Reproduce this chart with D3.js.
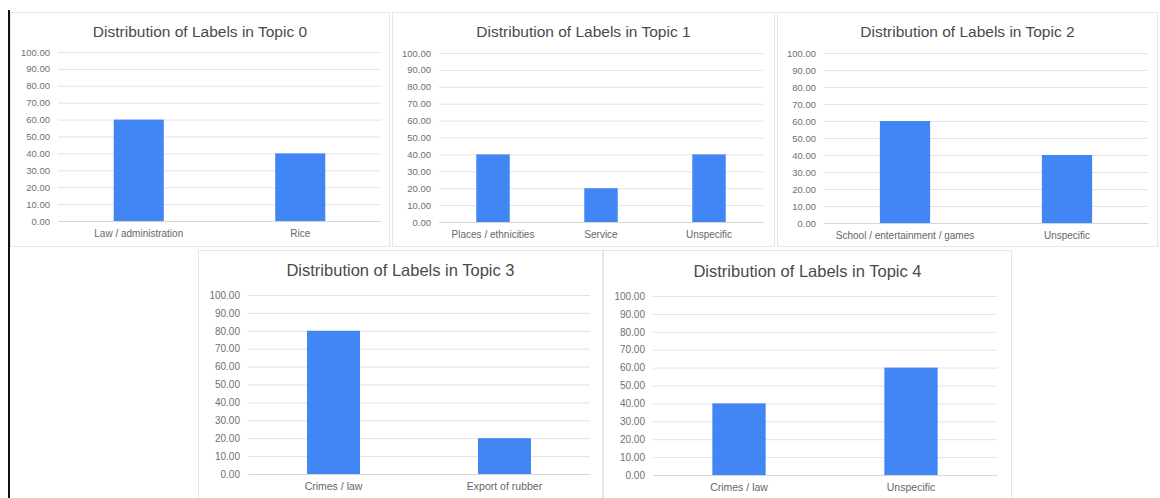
<!DOCTYPE html>
<html>
<head>
<meta charset="utf-8">
<script src="https://cdn.jsdelivr.net/npm/d3@7"></script>
<style>
  html, body { margin: 0; padding: 0; background: #ffffff; }
  svg { display: block; }
</style>
</head>
<body>
<svg id="chart" width="1160" height="498"></svg>
<script>
// Share of each label within the five topics (percent)
const topicNames = ["Topic 0", "Topic 1", "Topic 2", "Topic 3", "Topic 4"];

const topic0Labels = ["Law / administration", "Rice"];
const topic0Values = [60, 40];

const topic1Labels = ["Places / ethnicities", "Service", "Unspecific"];
const topic1Values = [40, 20, 40];

const topic2Labels = ["School / entertainment / games", "Unspecific"];
const topic2Values = [60, 40];

const topic3Labels = ["Crimes / law", "Export of rubber"];
const topic3Values = [80, 20];

const topic4Labels = ["Crimes / law", "Unspecific"];
const topic4Values = [40, 60];

const yTickValues = [0, 10, 20, 30, 40, 50, 60, 70, 80, 90, 100];

const topicLabels = [topic0Labels, topic1Labels, topic2Labels, topic3Labels, topic4Labels];
const topicValues = [topic0Values, topic1Values, topic2Values, topic3Values, topic4Values];

// Card frames and plot areas for each small chart
const frames = [
  { x: 10,  y: 12,  w: 380, h: 235, left: 58,  right: 381,  top: 52,  bottom: 221, titleY: 37, titleSize: 15.5, tickSize: 9.5, catSize: 10 },
  { x: 392, y: 12,  w: 383, h: 235, left: 439, right: 763,  top: 53,  bottom: 222, titleY: 37, titleSize: 15.5, tickSize: 9.5, catSize: 10 },
  { x: 777, y: 12,  w: 381, h: 235, left: 824, right: 1148, top: 53,  bottom: 223, titleY: 37, titleSize: 15.5, tickSize: 9.5, catSize: 10 },
  { x: 198, y: 250, w: 405, h: 260, left: 248, right: 590,  top: 295, bottom: 474, titleY: 276, titleSize: 16.5, tickSize: 10, catSize: 10.5 },
  { x: 603, y: 250, w: 409, h: 260, left: 653, right: 997,  top: 296, bottom: 475, titleY: 277, titleSize: 16.5, tickSize: 10, catSize: 10.5 }
];

const BAR_COLOR = "#4285f4";
const GRID_COLOR = "#e3e3e3";
const FONT = "'Liberation Sans', Arial, sans-serif";

const svg = d3.select("#chart");

// dark rule along the left edge of the page
svg.append("line")
  .attr("x1", 9).attr("x2", 9)
  .attr("y1", 10).attr("y2", 498)
  .attr("stroke", "#111").attr("stroke-width", 2);

topicNames.forEach((name, i) => {
  const f = frames[i];
  const labels = topicLabels[i];
  const values = topicValues[i];

  const g = svg.append("g");

  g.append("rect")
    .attr("x", f.x + 0.5).attr("y", f.y + 0.5)
    .attr("width", f.w - 1).attr("height", f.h - 1)
    .attr("fill", "#ffffff")
    .attr("stroke", "#e6e6e6");

  g.append("text")
    .attr("x", f.x + f.w / 2)
    .attr("y", f.titleY)
    .attr("text-anchor", "middle")
    .attr("font-family", FONT)
    .attr("font-size", f.titleSize)
    .attr("fill", "#4a4a4a")
    .text("Distribution of Labels in " + name);

  const x = d3.scaleBand()
    .domain(labels)
    .range([f.left, f.right])
    .paddingInner(0.69)
    .paddingOuter(0.345);

  const y = d3.scaleLinear()
    .domain([0, 100])
    .range([f.bottom, f.top]);

  // horizontal gridlines with value labels
  const yAxis = d3.axisLeft(y)
    .tickValues(yTickValues)
    .tickFormat(d3.format(".2f"))
    .tickSize(-(f.right - f.left))
    .tickPadding(8);

  const ya = g.append("g")
    .attr("transform", `translate(${f.left},0)`)
    .call(yAxis);
  ya.select(".domain").remove();
  ya.selectAll(".tick line").attr("stroke", GRID_COLOR);
  ya.selectAll(".tick text")
    .attr("font-family", FONT)
    .attr("font-size", f.tickSize)
    .attr("fill", "#707070");

  // bars
  g.selectAll("rect.bar")
    .data(values)
    .join("rect")
    .attr("class", "bar")
    .attr("x", (d, k) => x(labels[k]))
    .attr("y", d => y(d))
    .attr("width", x.bandwidth())
    .attr("height", d => y(0) - y(d))
    .attr("fill", BAR_COLOR);

  // category axis
  const xAxis = d3.axisBottom(x).tickSize(0).tickPadding(9);
  const xa = g.append("g")
    .attr("transform", `translate(0,${f.bottom})`)
    .call(xAxis);
  xa.select(".domain").attr("stroke", "#d6d6d6");
  xa.selectAll(".tick text")
    .attr("font-family", FONT)
    .attr("font-size", f.catSize)
    .attr("fill", "#666666");
});
</script>
</body>
</html>
